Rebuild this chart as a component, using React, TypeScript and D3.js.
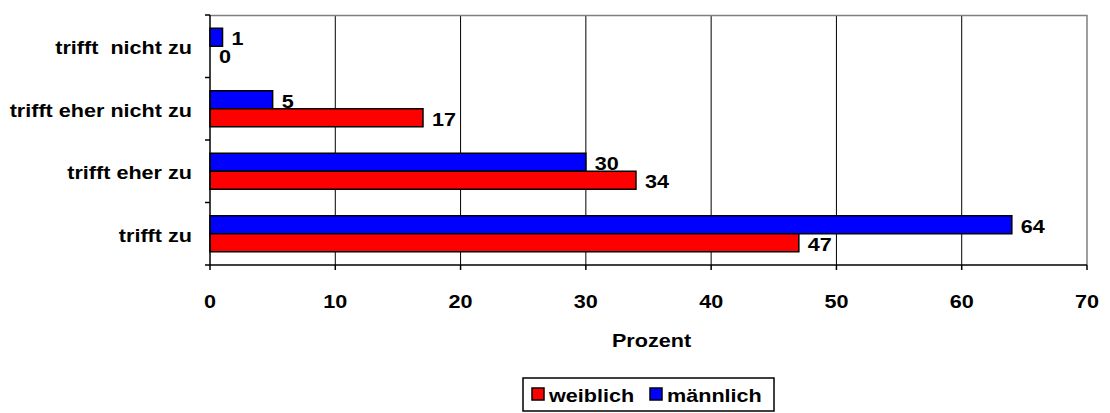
import { useEffect, useRef } from "react";
import * as d3 from "d3";

const categories = ["trifft  nicht zu", "trifft eher nicht zu", "trifft eher zu", "trifft zu"];
const maennlich = [1, 5, 30, 64];
const weiblich = [0, 17, 34, 47];
const xTicks = [0, 10, 20, 30, 40, 50, 60, 70];

const FONT = "'Liberation Sans', Arial, sans-serif";
const SX = 1.2; // the original text is drawn a bit wider than Arial

const App = () => {
  const svgRef = useRef<SVGSVGElement | null>(null);

  useEffect(() => {
    const svg = d3.select(svgRef.current);
    svg.selectAll("*").remove();

    const width = 1110;
    const height = 413;
    const margin = { top: 15, right: 23, bottom: 148, left: 210 };
    const innerW = width - margin.left - margin.right;
    const innerH = height - margin.top - margin.bottom;

    svg.attr("width", width).attr("height", height).style("font-family", FONT);

    const g = svg.append("g").attr("transform", `translate(${margin.left},${margin.top})`);

    const x = d3.scaleLinear().domain([0, 70]).range([0, innerW]);
    const y = d3.scaleBand<string>().domain(categories).range([0, innerH]);
    const barH = 18;

    const label = (sel: any, tx: (d: any) => number, ty: (d: any) => number) =>
      sel
        .attr("transform", (d: any) => `translate(${tx(d)},${ty(d)}) scale(${SX},1)`)
        .style("font-size", "18px")
        .style("font-weight", "bold")
        .style("white-space", "pre");

    // grid lines
    g.selectAll("line.grid")
      .data(xTicks.slice(1, -1))
      .enter()
      .append("line")
      .attr("x1", (d) => x(d))
      .attr("x2", (d) => x(d))
      .attr("y1", 0)
      .attr("y2", innerH)
      .attr("stroke", "#000")
      .attr("stroke-width", 1);

    // grey top / right border
    g.append("path")
      .attr("d", `M0,0.5H${innerW}V${innerH}`)
      .attr("fill", "none")
      .attr("stroke", "#808080")
      .attr("stroke-width", 1.5);

    const rows = categories.map((c, i) => ({ c, m: maennlich[i], w: weiblich[i] }));
    const center = (c: string) => (y(c) as number) + y.bandwidth() / 2;

    g.selectAll("rect.m")
      .data(rows)
      .enter()
      .append("rect")
      .attr("x", 0)
      .attr("y", (d) => center(d.c) - barH)
      .attr("width", (d) => x(d.m))
      .attr("height", barH)
      .attr("fill", "#0000ff")
      .attr("stroke", "#000")
      .attr("stroke-width", 1.5);

    g.selectAll("rect.w")
      .data(rows)
      .enter()
      .append("rect")
      .attr("x", 0)
      .attr("y", (d) => center(d.c))
      .attr("width", (d) => x(d.w))
      .attr("height", barH)
      .attr("fill", "#ff0000")
      .attr("stroke", "#000")
      .attr("stroke-width", 1.5);

    // value labels
    label(
      g.selectAll("text.vm").data(rows).enter().append("text").text((d: any) => d.m),
      (d) => x(d.m) + 9,
      (d) => center(d.c) - 1
    );
    label(
      g.selectAll("text.vw").data(rows).enter().append("text").text((d: any) => d.w),
      (d) => x(d.w) + 9,
      (d) => center(d.c) + barH - 1
    );

    // y axis
    const yAxis = g.append("g");
    yAxis.append("line").attr("x1", 0).attr("x2", 0).attr("y1", 0).attr("y2", innerH).attr("stroke", "#000").attr("stroke-width", 1.5);
    const bandEdges = [...categories.map((c) => y(c) as number), innerH];
    yAxis
      .selectAll("line.tk")
      .data(bandEdges)
      .enter()
      .append("line")
      .attr("x1", -5)
      .attr("x2", 0)
      .attr("y1", (d) => d)
      .attr("y2", (d) => d)
      .attr("stroke", "#000")
      .attr("stroke-width", 1.5);
    label(
      yAxis.selectAll("text").data(categories).enter().append("text").attr("text-anchor", "end").text((d: any) => d),
      () => -18,
      (d) => center(d) + 8
    );

    // x axis
    const xAxis = g.append("g").attr("transform", `translate(0,${innerH})`);
    xAxis.append("line").attr("x1", 0).attr("x2", innerW).attr("stroke", "#000").attr("stroke-width", 1.5);
    xAxis
      .selectAll("line.tk")
      .data(xTicks)
      .enter()
      .append("line")
      .attr("x1", (d) => x(d))
      .attr("x2", (d) => x(d))
      .attr("y1", 0)
      .attr("y2", 5)
      .attr("stroke", "#000")
      .attr("stroke-width", 1.5);
    label(
      xAxis.selectAll("text").data(xTicks).enter().append("text").attr("text-anchor", "middle").text((d: any) => d),
      (d) => x(d),
      () => 43
    );

    label(
      g.append("text").datum(0).attr("text-anchor", "middle").text("Prozent"),
      () => x(35) + 3,
      () => innerH + 82
    );

    // legend
    const lg = svg.append("g").attr("transform", "translate(523,378)");
    lg.append("rect").attr("x", 0).attr("y", 0).attr("width", 251).attr("height", 33).attr("fill", "#fff").attr("stroke", "#000").attr("stroke-width", 1.5);
    const items = [
      { label: "weiblich", color: "#ff0000", x: 9 },
      { label: "männlich", color: "#0000ff", x: 127 },
    ];
    items.forEach((it) => {
      lg.append("rect").attr("x", it.x).attr("y", 10).attr("width", 12).attr("height", 12).attr("fill", it.color).attr("stroke", "#000").attr("stroke-width", 1.5);
      label(lg.append("text").datum(it).text(it.label), () => it.x + 17, () => 24);
    });
  }, []);

  return <svg ref={svgRef} style={{ position: "absolute", left: 0, top: 0 }} />;
};

export default App;
